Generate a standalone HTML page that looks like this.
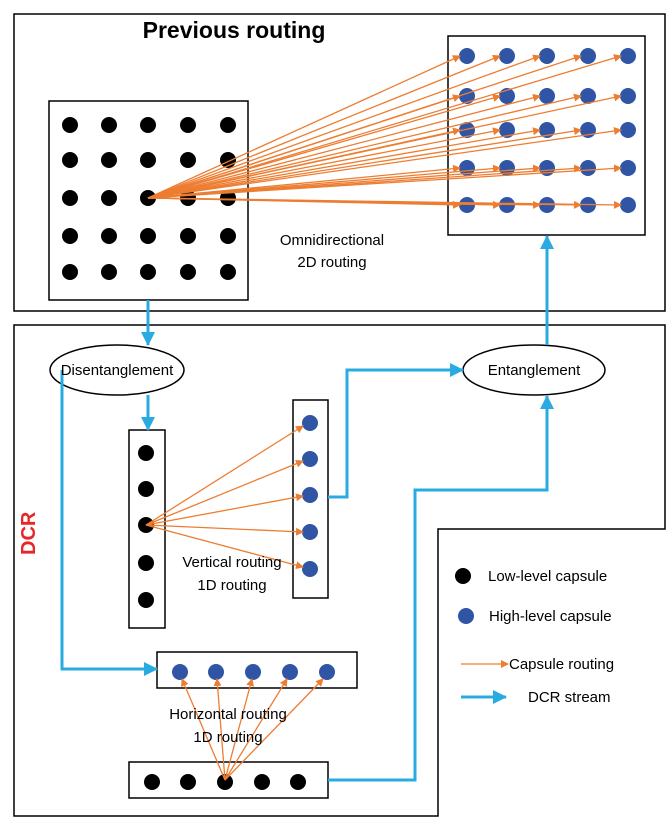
<!DOCTYPE html>
<html><head><meta charset="utf-8"><style>body{margin:0;background:#fff}svg{display:block}</style></head><body>
<svg width="667" height="820" viewBox="0 0 667 820" xmlns="http://www.w3.org/2000/svg" font-family="Liberation Sans, sans-serif">
<defs>
<marker id="o" markerWidth="8" markerHeight="8" refX="7" refY="4" orient="auto" markerUnits="userSpaceOnUse"><path d="M0,0 L8,4 L0,8z" fill="#ed7d31"/></marker>
<marker id="b" markerWidth="14" markerHeight="14" refX="13" refY="7" orient="auto" markerUnits="userSpaceOnUse"><path d="M0,0 L14,7 L0,14z" fill="#29abe2"/></marker>
<g id="row" fill="#000"><circle cx="70" cy="0" r="8"/><circle cx="109" cy="0" r="8"/><circle cx="148" cy="0" r="8"/><circle cx="188" cy="0" r="8"/><circle cx="228" cy="0" r="8"/></g>
<g id="brow" fill="#2f55a4"><circle cx="467" cy="0" r="8"/><circle cx="507" cy="0" r="8"/><circle cx="547" cy="0" r="8"/><circle cx="588" cy="0" r="8"/><circle cx="628" cy="0" r="8"/></g>
</defs>
<g fill="none" stroke="#000" stroke-width="1.5">
<rect x="14" y="14" width="651" height="297"/>
<path d="M14,325 H665 V529 H438 V816 H14 Z"/>
<rect x="49" y="101" width="199" height="199"/>
<rect x="448" y="36" width="197" height="199"/>
<rect x="129" y="430" width="36" height="198"/>
<rect x="293" y="400" width="35" height="198"/>
<rect x="157" y="652" width="200" height="36"/>
<rect x="129" y="762" width="199" height="36"/>
<ellipse cx="117" cy="370" rx="67" ry="25"/>
<ellipse cx="534" cy="370" rx="71" ry="25"/>
</g>
<g fill="#000">
<use href="#row" y="125"/><use href="#row" y="160"/><use href="#row" y="198"/><use href="#row" y="236"/><use href="#row" y="272"/>
<circle cx="146" cy="453" r="8"/><circle cx="146" cy="489" r="8"/><circle cx="146" cy="525" r="8"/><circle cx="146" cy="563" r="8"/><circle cx="146" cy="600" r="8"/>
<circle cx="152" cy="782" r="8"/><circle cx="188" cy="782" r="8"/><circle cx="225" cy="782" r="8"/><circle cx="262" cy="782" r="8"/><circle cx="298" cy="782" r="8"/>
<circle cx="463" cy="576" r="8"/>
</g>
<g fill="#2f55a4">
<use href="#brow" y="56"/><use href="#brow" y="96"/><use href="#brow" y="130"/><use href="#brow" y="168"/><use href="#brow" y="205"/>
<circle cx="310" cy="423" r="8"/><circle cx="310" cy="459" r="8"/><circle cx="310" cy="495" r="8"/><circle cx="310" cy="532" r="8"/><circle cx="310" cy="569" r="8"/>
<circle cx="180" cy="672" r="8"/><circle cx="216" cy="672" r="8"/><circle cx="253" cy="672" r="8"/><circle cx="290" cy="672" r="8"/><circle cx="327" cy="672" r="8"/>
<circle cx="466" cy="616" r="8"/>
</g>
<g stroke="#ed7d31" stroke-width="1.3" marker-end="url(#o)">
<line x1="148" y1="198" x2="460" y2="56"/><line x1="148" y1="198" x2="500" y2="56"/><line x1="148" y1="198" x2="540" y2="56"/><line x1="148" y1="198" x2="581" y2="56"/><line x1="148" y1="198" x2="621" y2="56"/>
<line x1="148" y1="198" x2="460" y2="96"/><line x1="148" y1="198" x2="500" y2="96"/><line x1="148" y1="198" x2="540" y2="96"/><line x1="148" y1="198" x2="581" y2="96"/><line x1="148" y1="198" x2="621" y2="96"/>
<line x1="148" y1="198" x2="460" y2="130"/><line x1="148" y1="198" x2="500" y2="130"/><line x1="148" y1="198" x2="540" y2="130"/><line x1="148" y1="198" x2="581" y2="130"/><line x1="148" y1="198" x2="621" y2="130"/>
<line x1="148" y1="198" x2="460" y2="168"/><line x1="148" y1="198" x2="500" y2="168"/><line x1="148" y1="198" x2="540" y2="168"/><line x1="148" y1="198" x2="581" y2="168"/><line x1="148" y1="198" x2="621" y2="168"/>
<line x1="148" y1="198" x2="460" y2="205"/><line x1="148" y1="198" x2="500" y2="205"/><line x1="148" y1="198" x2="540" y2="205"/><line x1="148" y1="198" x2="581" y2="205"/><line x1="148" y1="198" x2="621" y2="205"/>
<line x1="146" y1="525" x2="303" y2="426"/><line x1="146" y1="525" x2="303" y2="461"/><line x1="146" y1="525" x2="303" y2="496"/><line x1="146" y1="525" x2="303" y2="532"/><line x1="146" y1="525" x2="303" y2="567"/>
<line x1="225" y1="780" x2="182" y2="679"/><line x1="225" y1="780" x2="217" y2="679"/><line x1="225" y1="780" x2="252" y2="679"/><line x1="225" y1="780" x2="287" y2="679"/><line x1="225" y1="780" x2="323" y2="679"/>
<line x1="461" y1="664" x2="508" y2="664"/>
</g>
<g fill="none" stroke="#29abe2" stroke-width="3" marker-end="url(#b)">
<path d="M148,300 V345"/>
<path d="M547,345 V236"/>
<path d="M148,395 V430"/>
<path d="M328,497 H347 V370 H463"/>
<path d="M62,370 V669 H157"/>
<path d="M328,780 H415 V490 H547 V396"/>
<path d="M461,697 H506"/>
</g>
<g font-size="15" fill="#000">
<text x="234" y="38" font-size="23" font-weight="bold" text-anchor="middle">Previous routing</text>
<text x="332" y="245" text-anchor="middle">Omnidirectional</text>
<text x="332" y="267" text-anchor="middle">2D routing</text>
<text x="117" y="375" text-anchor="middle">Disentanglement</text>
<text x="534" y="375" text-anchor="middle">Entanglement</text>
<text x="232" y="567" text-anchor="middle">Vertical routing</text>
<text x="232" y="590" text-anchor="middle">1D routing</text>
<text x="228" y="719" text-anchor="middle">Horizontal routing</text>
<text x="228" y="742" text-anchor="middle">1D routing</text>
<text x="488" y="581">Low-level capsule</text>
<text x="489" y="621">High-level capsule</text>
<text x="509" y="669">Capsule routing</text>
<text x="528" y="702">DCR stream</text>
</g>
<text x="0" y="0" transform="translate(35,555) rotate(-90)" font-size="20" font-weight="bold" fill="#e8262a">DCR</text>
</svg>
</body></html>
